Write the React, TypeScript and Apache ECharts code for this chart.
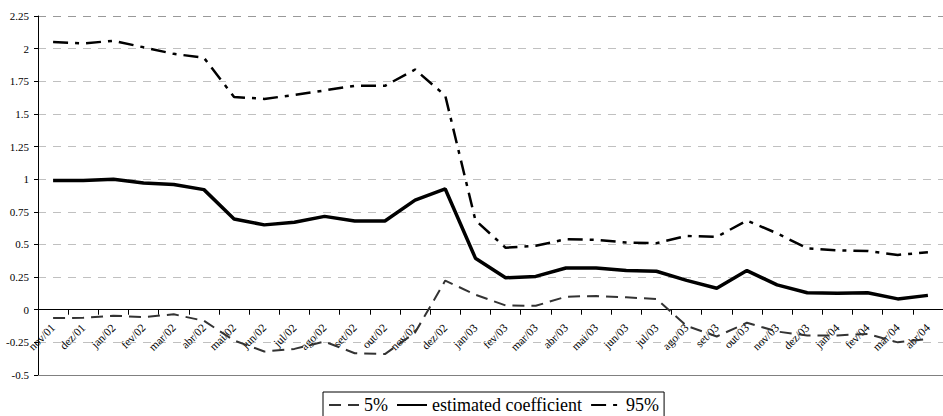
import React, { useEffect, useRef } from "react";
import * as echarts from "echarts";

const categories = [
  "nov/01", "dez/01", "jan/02", "fev/02", "mar/02", "abr/02", "mai/02", "jun/02",
  "jul/02", "ago/02", "set/02", "out/02", "nov/02", "dez/02", "jan/03", "fev/03",
  "mar/03", "abr/03", "mai/03", "jun/03", "jul/03", "ago/03", "set/03", "out/03",
  "nov/03", "dez/03", "jan/04", "fev/04", "mar/04", "abr/04",
];

const estimated = [
  0.99, 0.99, 1.0, 0.97, 0.96, 0.92, 0.695, 0.65, 0.67, 0.715, 0.68, 0.68, 0.84, 0.925,
  0.395, 0.245, 0.255, 0.32, 0.32, 0.3, 0.295, 0.225, 0.165, 0.3, 0.19, 0.13, 0.127, 0.13,
  0.083, 0.11,
];

const upper95 = [
  2.05, 2.04, 2.06, 2.01, 1.96, 1.93, 1.63, 1.615, 1.645, 1.68, 1.715, 1.715, 1.84, 1.64,
  0.685, 0.475, 0.49, 0.54, 0.535, 0.515, 0.51, 0.565, 0.558, 0.683, 0.585, 0.47, 0.455,
  0.45, 0.42, 0.44,
];

const lower5 = [
  -0.064, -0.062, -0.046, -0.056, -0.035, -0.085, -0.236, -0.32, -0.3, -0.244, -0.333,
  -0.34, -0.175, 0.223, 0.115, 0.033, 0.03, 0.1, 0.105, 0.095, 0.082, -0.123, -0.205,
  -0.1, -0.167, -0.197, -0.197, -0.185, -0.25, -0.223,
];

const Y_MIN = -0.5;
const Y_MAX = 2.25;
const Y_STEP = 0.25;

const FONT = "Liberation Serif";

const W = 943;
const H = 416;
const GRID_TOP = 16;
const GRID_BOTTOM = 41;

export default function App() {
  const ref = useRef<HTMLDivElement>(null);
  useEffect(() => {
    if (!ref.current) return;
    const chart = echarts.init(ref.current, undefined, { renderer: "svg" });
    const plotH = H - GRID_TOP - GRID_BOTTOM;
    // lift the category axis from the plot bottom up to the value 0
    const zeroOffset = -((0 - Y_MIN) / (Y_MAX - Y_MIN)) * plotH;
    const gridColors = [
      "#c0c0c0", "#c0c0c0", "#c0c0c0", "#c0c0c0", "#c0c0c0", "#c0c0c0",
      "#c0c0c0", "#c0c0c0", "#c0c0c0", "#c0c0c0", "#c0c0c0", "#999999",
    ];
    chart.setOption({
      animation: false,
      backgroundColor: "#ffffff",
      grid: { left: 38, top: GRID_TOP, right: -10, bottom: GRID_BOTTOM, containLabel: false },
      legend: {
        data: ["5%", "estimated coefficient", "95%"],
        left: 323,
        top: 392,
        itemWidth: 30,
        itemHeight: 16,
        itemGap: 8,
        padding: [4, 5, 10, 5],
        borderColor: "#000",
        borderWidth: 1,
        itemStyle: { opacity: 0 },
        textStyle: { fontFamily: FONT, fontSize: 18, color: "#000" },
      },
      xAxis: {
        type: "category",
        data: categories,
        boundaryGap: true,
        position: "bottom",
        offset: zeroOffset,
        axisLine: { onZero: false, lineStyle: { color: "#000", width: 1 } },
        axisTick: { show: true, length: 5, lineStyle: { color: "#000" } },
        axisLabel: {
          interval: 0,
          rotate: 45,
          margin: 16,
          fontFamily: FONT,
          fontSize: 11.5,
          color: "#000",
        },
        splitLine: { show: false },
      },
      yAxis: {
        type: "value",
        min: Y_MIN,
        max: Y_MAX,
        interval: Y_STEP,
        axisLine: { show: true, onZero: false, lineStyle: { color: "#000", width: 1 } },
        axisTick: { show: true, length: 4, lineStyle: { color: "#000" } },
        axisLabel: { fontFamily: FONT, fontSize: 11, color: "#000", margin: 9 },
        splitLine: {
          show: true,
          lineStyle: { color: gridColors, type: [8, 7], width: 1 },
        },
      },
      series: [
        {
          name: "5%",
          type: "line",
          data: lower5,
          symbol: "none",
          lineStyle: { color: "#333333", width: 2, type: [12, 7] },
          itemStyle: { color: "#333333" },
          markLine: {
            silent: true,
            symbol: "none",
            label: { show: false },
            lineStyle: { color: "#808080", type: "solid", width: 1 },
            data: [{ yAxis: Y_MIN }],
          },
        },
        {
          name: "estimated coefficient",
          type: "line",
          data: estimated,
          symbol: "none",
          lineStyle: { color: "#000", width: 3.5, type: "solid" },
          itemStyle: { color: "#000" },
        },
        {
          name: "95%",
          type: "line",
          data: upper95,
          symbol: "none",
          lineStyle: { color: "#000", width: 2.5, type: [15, 7, 4, 7] },
          itemStyle: { color: "#000" },
        },
      ],
    });
    return () => chart.dispose();
  }, []);
  return (
    <div
      ref={ref}
      style={{ position: "fixed", left: 0, top: 0, width: W, height: H }}
    />
  );
}
